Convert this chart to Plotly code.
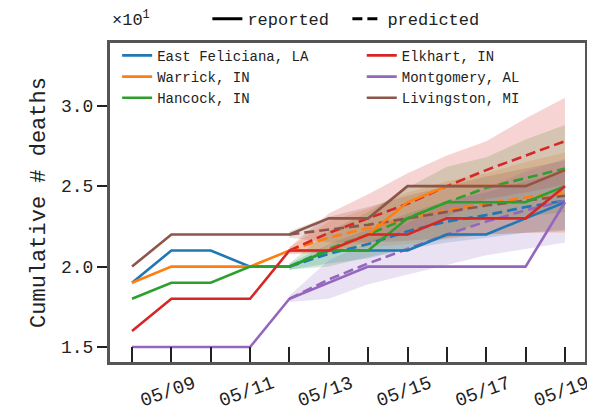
import plotly.graph_objects as go

dates = ["2020-05-08", "2020-05-09", "2020-05-10", "2020-05-11", "2020-05-12", "2020-05-13",
         "2020-05-14", "2020-05-15", "2020-05-16", "2020-05-17", "2020-05-18", "2020-05-19"]
pred_dates = dates[4:]

east_feliciana = [19, 21, 21, 20, 20, 21, 21, 21, 22, 22, 23, 24]
warrick = [19, 20, 20, 20, 21, 21, 22, 24, 25, 25, 25, 26]
hancock = [18, 19, 19, 20, 20, 21, 21, 23, 24, 24, 24, 25]
elkhart = [16, 18, 18, 18, 21, 21, 22, 22, 23, 23, 23, 25]
montgomery = [15, 15, 15, 15, 18, 19, 20, 20, 20, 20, 20, 24]
livingston = [20, 22, 22, 22, 22, 23, 23, 25, 25, 25, 25, 26]

ef_pred = [20, 20.8, 21.4, 22.2, 22.8, 23.2, 23.7, 24.1]
ef_hi = [20.2, 21.4, 22.3, 23.3, 24.1, 24.6, 25.3, 25.9]
ef_lo = [19.8, 20.2, 20.5, 21.1, 21.5, 21.8, 22.1, 22.3]
wa_pred = [21, 21.8, 22.4, 23.0, 23.5, 23.9, 24.3, 24.6]
wa_hi = [21.2, 22.8, 23.6, 24.6, 25.3, 25.8, 26.5, 27.1]
wa_lo = [20.8, 20.8, 21.2, 21.4, 21.7, 22.0, 22.1, 22.1]
ha_pred = [20, 21.1, 22.0, 23.0, 24.0, 24.9, 25.5, 26.1]
ha_hi = [20.2, 22.2, 23.4, 24.9, 26.2, 26.8, 27.9, 28.8]
ha_lo = [19.8, 20.0, 20.6, 21.1, 21.8, 23.0, 23.1, 23.4]
el_pred = [21, 22.1, 23.0, 23.9, 25.0, 26.0, 26.9, 27.8]
el_hi = [21.2, 23.3, 24.5, 25.8, 26.9, 27.8, 29.2, 30.5]
el_lo = [20.8, 20.9, 21.5, 22.0, 23.1, 24.2, 24.6, 25.1]
mo_pred = [18, 19.2, 20.2, 21.1, 22.0, 22.8, 23.5, 24.1]
mo_hi = [18.2, 20.4, 21.5, 22.7, 23.9, 24.9, 25.9, 26.7]
mo_lo = [17.8, 18.0, 18.9, 19.5, 20.1, 20.7, 21.1, 21.5]
li_pred = [22, 22.3, 22.6, 23.0, 23.4, 23.8, 24.1, 24.4]
li_hi = [22.2, 23.1, 23.7, 24.4, 25.0, 25.6, 26.1, 26.6]
li_lo = [21.8, 21.5, 21.5, 21.6, 21.8, 22.0, 22.1, 22.2]

ytick_vals = [15, 20, 25, 30]
ytick_text = ["1.5", "2.0", "2.5", "3.0"]
xtick_vals = ["2020-05-09", "2020-05-11", "2020-05-13", "2020-05-15", "2020-05-17", "2020-05-19"]
xtick_text = ["05/09", "05/11", "05/13", "05/15", "05/17", "05/19"]

series = [
    ("East Feliciana, LA", "#1f77b4", "31,119,180", east_feliciana, ef_pred, ef_hi, ef_lo, "legend2"),
    ("Warrick, IN", "#ff7f0e", "255,127,14", warrick, wa_pred, wa_hi, wa_lo, "legend2"),
    ("Hancock, IN", "#2ca02c", "44,160,44", hancock, ha_pred, ha_hi, ha_lo, "legend2"),
    ("Elkhart, IN", "#d62728", "214,39,40", elkhart, el_pred, el_hi, el_lo, "legend3"),
    ("Montgomery, AL", "#9467bd", "148,103,189", montgomery, mo_pred, mo_hi, mo_lo, "legend3"),
    ("Livingston, MI", "#8c564b", "140,86,75", livingston, li_pred, li_hi, li_lo, "legend3"),
]

FONT = "Liberation Mono"
DAY = 86400000
fig = go.Figure()

for name, col, rgb, rep, pred, hi, lo, lg in series:
    fig.add_trace(go.Scatter(
        x=pred_dates + pred_dates[::-1], y=hi + lo[::-1],
        fill="toself", fillcolor=f"rgba({rgb},0.2)", line=dict(width=0),
        mode="lines", showlegend=False, hoverinfo="skip"))

for name, col, rgb, rep, pred, hi, lo, lg in series:
    fig.add_trace(go.Scatter(
        x=pred_dates, y=pred, mode="lines",
        line=dict(color=col, width=2.6, dash="10px,5px"), showlegend=False))

for name, col, rgb, rep, pred, hi, lo, lg in series:
    fig.add_trace(go.Scatter(
        x=dates, y=rep, mode="lines", name=name, legend=lg,
        line=dict(color=col, width=2.6)))

fig.add_trace(go.Scatter(x=[None], y=[None], mode="lines", name="reported",
                         line=dict(color="black", width=3), legend="legend"))
fig.add_trace(go.Scatter(x=[None], y=[None], mode="lines", name="predicted",
                         line=dict(color="black", width=3, dash="10px,5px"), legend="legend"))

fig.update_layout(
    width=587, height=403,
    margin=dict(l=102, r=10, t=35, b=49, autoexpand=False),
    paper_bgcolor="white", plot_bgcolor="white",
    font=dict(family=FONT, color="#222222", size=16),
    legend=dict(orientation="h", x=0.205, y=1.075, xanchor="left", yanchor="middle",
                bgcolor="rgba(0,0,0,0)", font=dict(size=17), itemwidth=30,
                entrywidth=95),
    legend2=dict(x=0.015, y=1.01, xanchor="left", yanchor="top",
                 bgcolor="rgba(0,0,0,0)", font=dict(size=14), tracegroupgap=0),
    legend3=dict(x=0.53, y=1.01, xanchor="left", yanchor="top",
                 bgcolor="rgba(0,0,0,0)", font=dict(size=14), tracegroupgap=0),
    xaxis=dict(
        type="date",
        range=["2020-05-07 10:34", "2020-05-19 12:14"],
        tickmode="array", tickvals=xtick_vals, ticktext=xtick_text,
        ticks="inside", ticklen=15, tickwidth=2, tickcolor="#222222",
        minor=dict(ticks="inside", ticklen=15, tickwidth=2, tickcolor="#222222",
                   dtick=DAY, tick0="2020-05-08", showgrid=False),
        tickangle=-20, tickfont=dict(size=19, family=FONT),
        ticklabelstandoff=0, ticklabelshift=22,
        showgrid=False, zeroline=False,
        showline=True, mirror=True, linecolor="#555555", linewidth=3,
    ),
    yaxis=dict(
        range=[14.07, 33.9],
        tickmode="array", tickvals=ytick_vals, ticktext=ytick_text,
        ticks="outside", ticklen=10, tickwidth=2, tickcolor="#222222",
        tickfont=dict(size=18, family=FONT),
        showgrid=False, zeroline=False,
        showline=True, mirror=True, linecolor="#555555", linewidth=3,
        title=dict(text="Cumulative # deaths", font=dict(size=22, family=FONT), standoff=10),
    ),
)

fig.add_annotation(text="×10<sup>1</sup>", xref="paper", yref="paper",
                   x=0.0, y=1.075, xanchor="left", yanchor="middle",
                   showarrow=False, font=dict(size=17, family=FONT, color="#222222"))

fig.write_html("out.html")
